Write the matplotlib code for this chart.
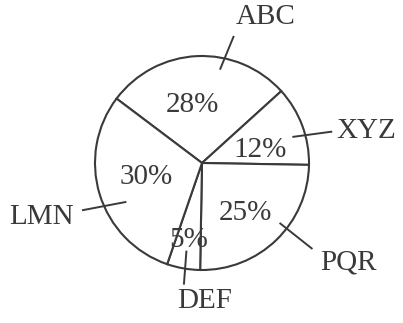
import numpy as np
import matplotlib
matplotlib.use("Agg")
import matplotlib.pyplot as plt

# data
categories = ["ABC", "XYZ", "PQR", "DEF", "LMN"]
shares = [28, 12, 25, 5, 30]
pct_labels = ["28%", "12%", "25%", "5%", "30%"]

# style / layout
W, H = 403, 323
cx, cy, R = 202, 323 - 163, 107
ink = "#3a3a3a"
font = dict(family="Liberation Serif", size=21, color=ink)
pct_dist = [0.55, 0.56, 0.62, 0.73, 0.54]
pct_shift = [7.2, -8.1, -3, 0.4, -3.4]  # angular nudge, degrees
# leader lines: (angle_in, r_in, angle_out, r_out) in degrees / pixels
leaders = [(79, 96, 76, 130), (16, 95, 13.6, 133), (-37.7, 99, -37.9, 139),
           (-100, 90, -98.5, 122), (-153, 86, -158.4, 128)]
label_pos = [(266, 17), (366.5, 131.5), (348, 263), (204.5, 301.5), (41.5, 217)]

fig = plt.figure(figsize=(W / 100, H / 100), dpi=100)
ax = fig.add_axes([0, 0, 1, 1])

wedges, _ = ax.pie(shares, startangle=143, counterclock=False, center=(cx, cy),
                   radius=R, colors=["white"] * len(shares),
                   wedgeprops=dict(edgecolor=ink, linewidth=1.5), frame=True)
ax.set_xlim(0, W)
ax.set_ylim(0, H)
ax.set_aspect("equal")
ax.axis("off")

for w, lab, d, sh in zip(wedges, pct_labels, pct_dist, pct_shift):
    mid = np.deg2rad((w.theta1 + w.theta2) / 2 + sh)
    ax.text(cx + d * R * np.cos(mid), cy + d * R * np.sin(mid), lab,
            ha="center", va="center", **font)

for cat, (a1, r1, a2, r2), (tx, ty) in zip(categories, leaders, label_pos):
    p1 = (cx + r1 * np.cos(np.deg2rad(a1)), cy + r1 * np.sin(np.deg2rad(a1)))
    p2 = (cx + r2 * np.cos(np.deg2rad(a2)), cy + r2 * np.sin(np.deg2rad(a2)))
    ax.plot([p1[0], p2[0]], [p1[1], p2[1]], color=ink, lw=1.4)
    ax.text(tx, H - ty, cat, ha="center", va="center", **font)

fig.savefig("out.png", dpi=100, facecolor="white")
